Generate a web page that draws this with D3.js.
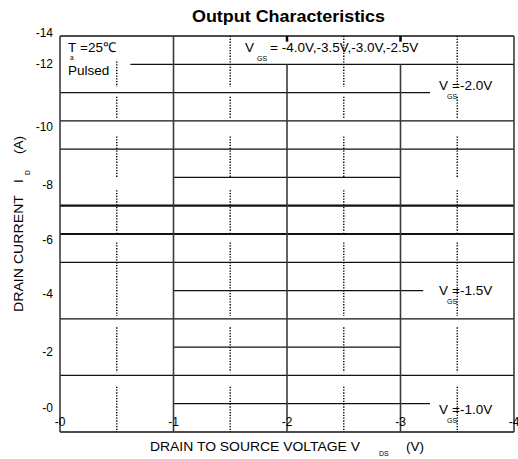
<!DOCTYPE html>
<html>
<head>
<meta charset="utf-8">
<script src="https://cdn.jsdelivr.net/npm/d3@7"></script>
<style>
  body { margin: 0; background: #fff; }
  svg { display: block; font-family: 'Liberation Sans', Arial, sans-serif; }
</style>
</head>
<body>
<div id="container"></div>
<script>
// x axis: drain to source voltage (V)
const vdsTicks = [0, -1, -2, -3, -4];
const vdsLabels = ['-0', '-1', '-2', '-3', '-4'];

// y axis: drain current (A), labels sit where the picture puts them
const idLabels = ['-14', '-12', '-10', '-8', '-6', '-4', '-2', '-0'];
const idLabelAt = [-14.1, -13, -10.8, -8.75, -6.8, -4.9, -2.85, -0.85];

// horizontal rules / curves: level, start and end voltage
const hLevel = [-14, -13, -12, -11, -10, -9, -8, -7, -6, -5, -4, -3, -2, -1, 0];
const hFrom = [0, -0.62, 0, 0, 0, -1, 0, 0, 0, -1, 0, -1, 0, -1, 0];
const hTo = [-4, -4, -3.26, -4, -4, -3, -4, -4, -4, -3.2, -4, -3, -4, -3.26, -4];

// solid verticals: voltage and how high they reach
const vLine = [0, -1, -2, -3, -4];
const vTop = [-14, -14, -13, -13, -14];

// dotted verticals and the runs of current they cover
const dotCols = [-0.5, -1.5, -2.5, -3.5];
const dotStart = [-13.1, -14, -14, -14];
const dotRuns = [[-14, -12.2], [-11.85, -11.1], [-10.45, -9.0], [-8.55, -7.05], [-6.7, -4.1], [-3.7, -2.1], [-1.6, 0]];

// gate voltage curve labels
const vgsText = ['=-2.0V', '=-1.5V', '=-1.0V'];
const vgsLevel = [-12.1, -4.85, -0.65];

const w = 518;
const h = 459;

const svg = d3.select('#container')
  .append('svg')
  .attr('width', w)
  .attr('height', h);

const x = d3.scaleLinear().domain([0, -4]).range([60, 514]);
const y = d3.scaleLinear().domain([0, -14]).range([432, 36]);

svg.append('text')
  .attr('x', 192)
  .attr('y', 22)
  .attr('font-size', 16)
  .attr('font-weight', 'bold')
  .attr('textLength', 193)
  .attr('lengthAdjust', 'spacingAndGlyphs')
  .text('Output Characteristics');

// horizontal lines
svg.append('g')
  .selectAll('line')
  .data(hLevel.map((d, i) => ({ id: d, a: hFrom[i], b: hTo[i] })))
  .enter()
  .append('line')
  .attr('x1', d => x(d.a))
  .attr('x2', d => x(d.b))
  .attr('y1', d => y(d.id))
  .attr('y2', d => y(d.id))
  .attr('stroke', '#111')
  .attr('stroke-width', d => (d.id === -8 || d.id === -7 ? 2.2 : 1.3));

// dotted verticals
const runs = [];
dotCols.forEach((c, i) => {
  dotRuns.forEach(r => {
    const top = Math.max(r[0], dotStart[i]);
    if (top < r[1]) runs.push({ v: c, a: top, b: r[1] });
  });
});
svg.append('g')
  .selectAll('line')
  .data(runs)
  .enter()
  .append('line')
  .attr('x1', d => x(d.v))
  .attr('x2', d => x(d.v))
  .attr('y1', d => y(d.a))
  .attr('y2', d => y(d.b))
  .attr('stroke', '#111')
  .attr('stroke-width', 1.5)
  .attr('stroke-dasharray', '1.3,1.5');

// solid verticals
svg.append('g')
  .selectAll('line')
  .data(vLine.map((d, i) => ({ v: d, top: vTop[i] })))
  .enter()
  .append('line')
  .attr('x1', d => x(d.v))
  .attr('x2', d => x(d.v))
  .attr('y1', d => y(d.top))
  .attr('y2', y(0))
  .attr('stroke', '#3a3a3a')
  .attr('stroke-width', 1.6);

// little marks left on the top edge
svg.append('g')
  .selectAll('line')
  .data(vLine.filter((d, i) => vTop[i] > -14))
  .enter()
  .append('line')
  .attr('x1', d => x(d))
  .attr('x2', d => x(d))
  .attr('y1', y(-14))
  .attr('y2', y(-13.8))
  .attr('stroke', '#000')
  .attr('stroke-width', 2.5);

// x tick labels
svg.append('g')
  .attr('font-size', 12)
  .attr('text-anchor', 'middle')
  .selectAll('text')
  .data(vdsTicks)
  .enter()
  .append('text')
  .attr('x', d => x(d))
  .attr('y', 426)
  .text((d, i) => vdsLabels[i]);

// y tick labels
svg.append('g')
  .attr('font-size', 12)
  .attr('text-anchor', 'end')
  .selectAll('text')
  .data(idLabelAt)
  .enter()
  .append('text')
  .attr('x', 53)
  .attr('y', d => y(d))
  .attr('dy', '0.35em')
  .text((d, i) => idLabels[i]);

// axis titles
const yt = svg.append('g').attr('transform', 'translate(23,0) rotate(-90)');
yt.append('text')
  .attr('x', -312)
  .attr('y', 0)
  .attr('font-size', 13.5)
  .attr('textLength', 117)
  .attr('lengthAdjust', 'spacingAndGlyphs')
  .text('DRAIN CURRENT');
yt.append('text')
  .attr('x', -183)
  .attr('y', 0)
  .attr('font-size', 13.5)
  .text('I');
yt.append('text')
  .attr('x', -175)
  .attr('y', 7)
  .attr('font-size', 6.5)
  .text('D');
yt.append('text')
  .attr('x', -154)
  .attr('y', 0)
  .attr('font-size', 13.5)
  .text('(A)');

svg.append('text')
  .attr('x', 150)
  .attr('y', 451)
  .attr('font-size', 13.5)
  .attr('textLength', 210)
  .attr('lengthAdjust', 'spacingAndGlyphs')
  .text('DRAIN TO SOURCE VOLTAGE V');
svg.append('text')
  .attr('x', 379)
  .attr('y', 456)
  .attr('font-size', 7)
  .text('DS');
svg.append('text')
  .attr('x', 406)
  .attr('y', 451)
  .attr('font-size', 13.5)
  .text('(V)');

// notes in the top left corner
svg.append('text')
  .attr('x', 68)
  .attr('y', 52)
  .attr('font-size', 13.5)
  .text('T');
svg.append('text')
  .attr('x', 70)
  .attr('y', 60)
  .attr('font-size', 6.5)
  .text('a');
svg.append('text')
  .attr('x', 80)
  .attr('y', 52)
  .attr('font-size', 13.5)
  .text('=25℃');
svg.append('text')
  .attr('x', 68)
  .attr('y', 75)
  .attr('font-size', 13.5)
  .text('Pulsed');

svg.append('text')
  .attr('x', 245)
  .attr('y', 52)
  .attr('font-size', 13.5)
  .text('V');
svg.append('text')
  .attr('x', 257)
  .attr('y', 60.5)
  .attr('font-size', 7)
  .text('GS');
svg.append('text')
  .attr('x', 270)
  .attr('y', 52)
  .attr('font-size', 13.5)
  .text('= -4.0V,-3.5V,-3.0V,-2.5V');

// gate voltage labels by their curves
const vg = svg.append('g')
  .selectAll('g')
  .data(vgsLevel.map((d, i) => ({ id: d, t: vgsText[i] })))
  .enter()
  .append('g')
  .attr('transform', d => `translate(439,${y(d.id)})`);
vg.append('text')
  .attr('font-size', 13.5)
  .text('V');
vg.append('text')
  .attr('x', 13)
  .attr('font-size', 13.5)
  .text(d => d.t);
vg.append('text')
  .attr('x', 8)
  .attr('y', 9.5)
  .attr('font-size', 7)
  .text('GS');
</script>
</body>
</html>
